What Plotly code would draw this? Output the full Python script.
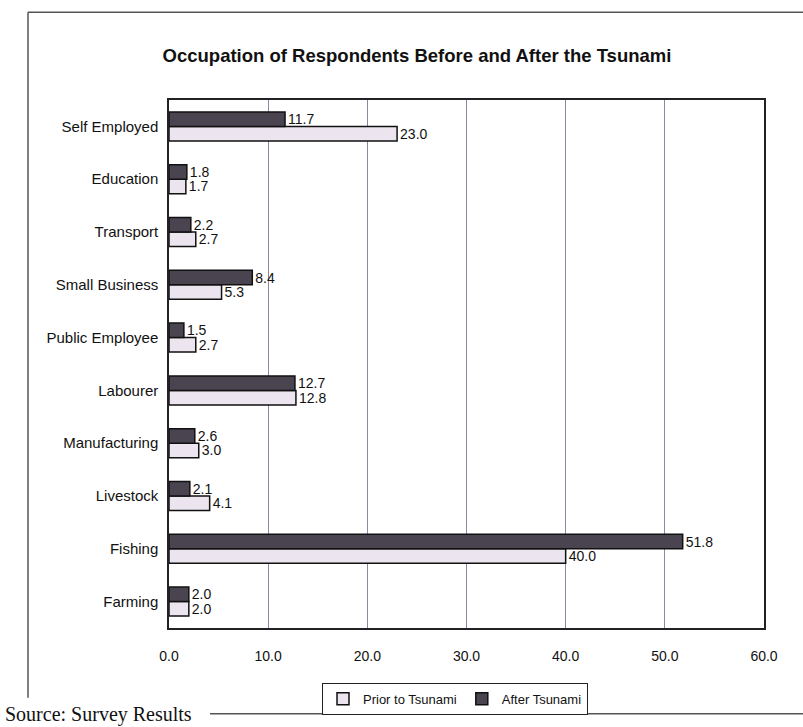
import plotly.graph_objects as go

categories = ["Farming", "Fishing", "Livestock", "Manufacturing", "Labourer",
              "Public Employee", "Small Business", "Transport", "Education", "Self Employed"]
prior_values = [2.0, 40.0, 4.1, 3.0, 12.8, 2.7, 5.3, 2.7, 1.7, 23.0]
after_values = [2.0, 51.8, 2.1, 2.6, 12.7, 1.5, 8.4, 2.2, 1.8, 11.7]
x_ticks = [0, 10, 20, 30, 40, 50, 60]
x_tick_labels = ["0.0", "10.0", "20.0", "30.0", "40.0", "50.0", "60.0"]

W, H = 803, 727
L, R, T, B = 169, 39, 100, 97
pw, ph = W - L - R, H - T - B

def px(x):
    return (x - L) / pw

def py(y):
    return (H - B - y) / ph

font = "Liberation Sans, Arial, sans-serif"

fig = go.Figure()
fig.add_trace(go.Bar(
    y=categories, x=prior_values, orientation="h", name="Prior to Tsunami",
    marker=dict(color="#ece4ef", line=dict(color="#111111", width=1.5)),
    text=prior_values, texttemplate="%{x:.1f}", textposition="outside",
    constraintext="none",
    textfont=dict(size=14, color="#111111", family=font), cliponaxis=False,
))
fig.add_trace(go.Bar(
    y=categories, x=after_values, orientation="h", name="After Tsunami",
    marker=dict(color="#4a4350", line=dict(color="#111111", width=1.5)),
    text=after_values, texttemplate="%{x:.1f}", textposition="outside",
    constraintext="none",
    textfont=dict(size=14, color="#111111", family=font), cliponaxis=False,
))

fig.update_layout(
    width=W, height=H,
    margin=dict(l=L, r=R, t=T, b=B),
    paper_bgcolor="white", plot_bgcolor="white",
    barmode="group", bargap=0.45, bargroupgap=0.0,
    font=dict(family=font, size=13, color="#111111"),
    title=dict(text="<b>Occupation of Respondents Before and After the Tsunami</b>",
               xref="container", x=417 / W, xanchor="center",
               yref="container", y=1 - 56 / H, yanchor="middle",
               font=dict(size=18.5, family=font, color="#111111")),
    xaxis=dict(range=[0, 60], tickvals=x_ticks, ticktext=x_tick_labels,
               showgrid=True, gridcolor="#8f86a6", gridwidth=1,
               showline=True, linecolor="#222222", linewidth=1.5, mirror=True,
               ticks="outside", ticklen=14, tickcolor="rgba(0,0,0,0)",
               tickfont=dict(size=14, family=font), zeroline=False, fixedrange=True),
    yaxis=dict(showline=True, linecolor="#222222", linewidth=1.5, mirror=True,
               ticks="outside", ticklen=6, tickcolor="rgba(0,0,0,0)",
               tickfont=dict(size=15, family=font), fixedrange=True),
    legend=dict(orientation="h", x=px(455), xanchor="center", y=py(701), yanchor="middle",
                bordercolor="#222222", borderwidth=1, bgcolor="white",
                traceorder="normal", font=dict(size=13, family=font),
                itemwidth=30),
    showlegend=True,
)

fig.add_annotation(text="Source: Survey Results", xref="paper", yref="paper",
                   x=px(3), y=py(703), xanchor="left", yanchor="top", showarrow=False,
                   font=dict(family="Liberation Serif, Times New Roman, serif", size=20, color="#111111"))

# outer frame of the scanned chart
fig.add_shape(type="line", xref="paper", yref="paper", x0=px(28), x1=px(28), y0=py(12), y1=py(700),
              line=dict(color="#555555", width=1.5))
fig.add_shape(type="line", xref="paper", yref="paper", x0=px(28), x1=px(803), y0=py(12), y1=py(12),
              line=dict(color="#555555", width=1.5))
fig.add_shape(type="line", xref="paper", yref="paper", x0=px(210), x1=px(803), y0=py(716), y1=py(716),
              line=dict(color="#555555", width=1.5))

fig.write_html("out.html")
